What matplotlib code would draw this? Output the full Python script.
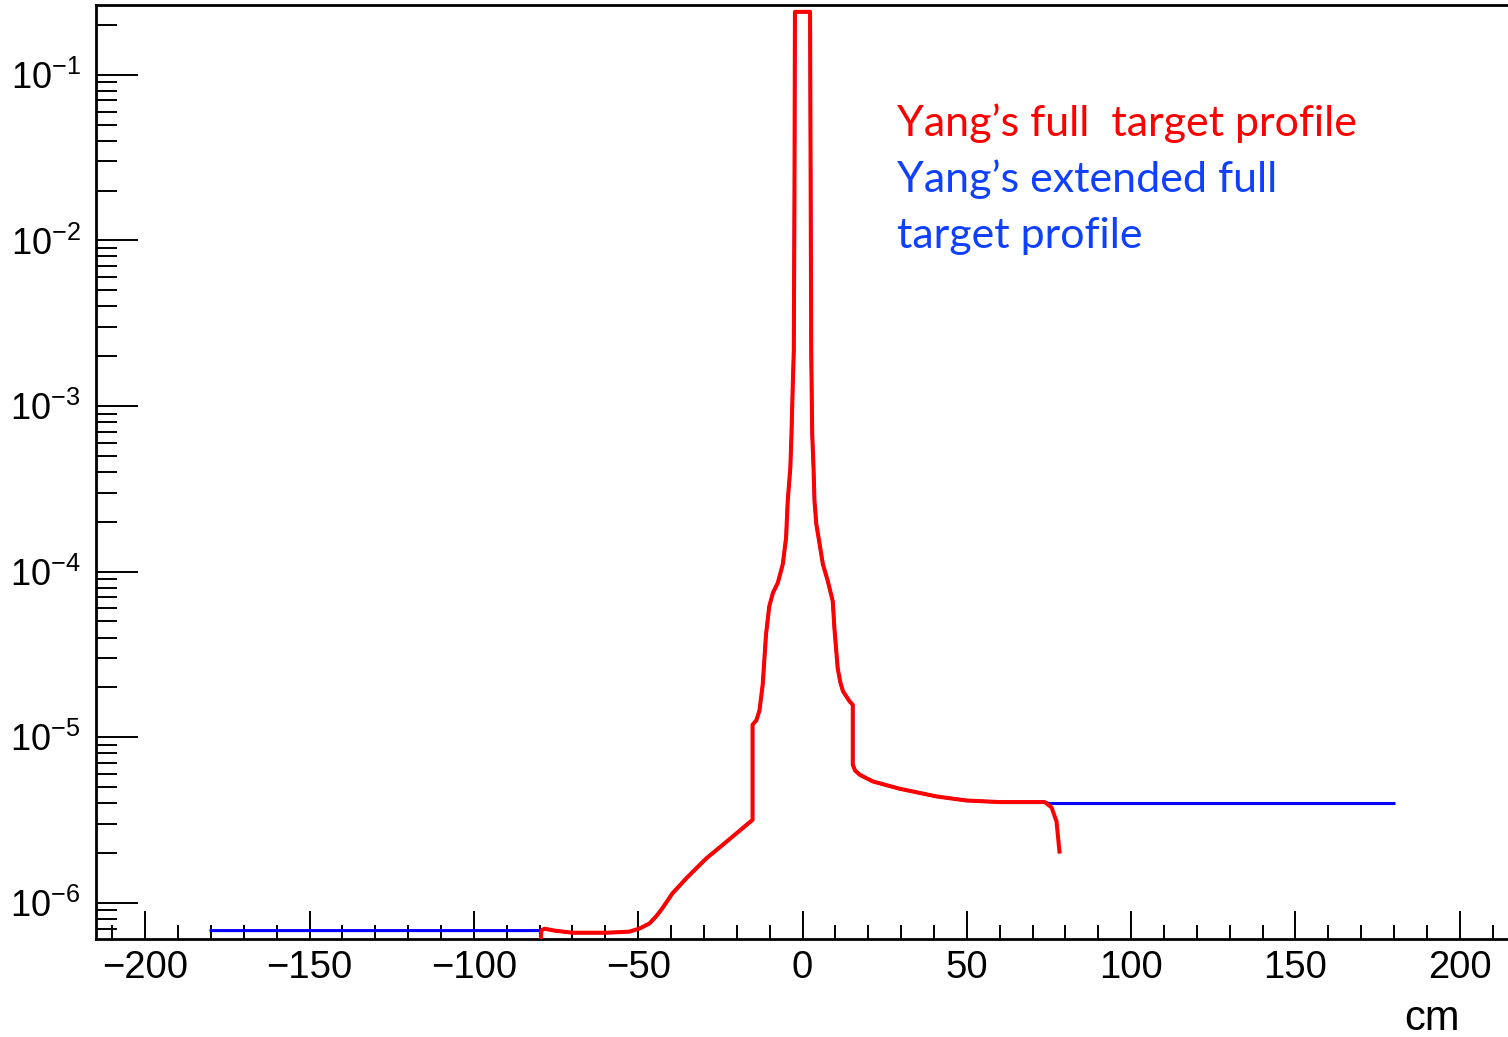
import numpy as np
import matplotlib
matplotlib.use("Agg")
import matplotlib.pyplot as plt
from matplotlib.ticker import LogLocator, MultipleLocator, NullFormatter

plt.rcParams["font.family"] = ["Liberation Sans", "DejaVu Sans"]
plt.rcParams["mathtext.fontset"] = "custom"
plt.rcParams["mathtext.rm"] = "Liberation Sans"
plt.rcParams["mathtext.it"] = "Liberation Sans:italic"
plt.rcParams["mathtext.bf"] = "Liberation Sans:bold"

# Shared profile (cm, density)
core_x = [-78.5, -75.5, -70.0, -59.7, -52.7, -49.6, -46.6, -44.5, -42.6, -39.6, -35.3,
          -32.0, -29.2, -25.0, -21.3, -15.2, -15.2, -14.0, -13.1, -12.1, -11.1, -10.1, -9.0, -7.5,
          -6.0, -5.0, -4.5, -3.7, -3.35, -2.95, -2.65, -2.45, -2.3,
          2.3, 2.5, 2.65, 2.95, 3.35, 3.65, 4.2, 5.2, 6.2, 7.7, 9.2, 9.7,
          10.7, 11.5, 12.3, 14.3, 15.3, 15.3, 16.0, 17.4, 21.4, 29.5, 40.8, 49.9, 60.0, 73.7]
core_y = [6.98e-7, 6.8e-7, 6.6e-7, 6.6e-7, 6.7e-7, 7.0e-7, 7.5e-7, 8.3e-7, 9.3e-7, 1.14e-6, 1.41e-6,
          1.64e-6, 1.86e-6, 2.18e-6, 2.51e-6, 3.17e-6, 1.19e-5, 1.27e-5, 1.45e-5, 2.09e-5, 4.19e-5,
          6.19e-5, 7.45e-5, 8.57e-5,
          1.11e-4, 1.60e-4, 2.67e-4, 4.25e-4, 6.8e-4, 1.36e-3, 2.16e-3, 1.74e-2, 0.24,
          0.24, 1.74e-2, 2.16e-3, 6.8e-4, 4.25e-4, 2.67e-4, 1.94e-4, 1.47e-4, 1.11e-4, 8.77e-5, 6.64e-5, 4.58e-5,
          2.62e-5, 2.15e-5, 1.90e-5, 1.65e-5, 1.57e-5, 6.83e-6, 6.3e-6, 5.94e-6, 5.41e-6, 4.89e-6, 4.39e-6,
          4.15e-6, 4.06e-6, 4.06e-6]

# Red ("full target") end pieces
red_start_x = [-79.8, -79.5]
red_start_y = [5.0e-7, 6.8e-7]
red_end_x = [75.8, 77.3, 78.2]
red_end_y = [3.77e-6, 3.10e-6, 2.04e-6]

# Blue ("extended") flat tails
blue_left_x = [-180.0, -80.0]
blue_left_y = [6.8e-7, 6.8e-7]
blue_right_x = [75.0, 180.0]
blue_right_y = [3.98e-6, 3.98e-6]

red_x = red_start_x + core_x + red_end_x
red_y = red_start_y + core_y + red_end_y
blue_x = blue_left_x + core_x + blue_right_x
blue_y = blue_left_y + core_y + blue_right_y

fig = plt.figure(figsize=(15.08, 10.37), dpi=100)
ax = fig.add_axes([96 / 1508, 1 - 939 / 1037, (1509 - 96) / 1508, (939 - 5) / 1037])

ax.plot(blue_x, blue_y, color="#0000ff", lw=2.2, zorder=2)
ax.plot(red_x, red_y, color="#ff0000", lw=2.9, zorder=3, solid_joinstyle="round")

ax.set_yscale("log")
ax.set_xlim(-215, 215)
ax.set_ylim(6.05e-7, 0.264)

ax.xaxis.set_major_locator(MultipleLocator(50))
ax.xaxis.set_minor_locator(MultipleLocator(10))
ax.yaxis.set_major_locator(LogLocator(base=10, numticks=20))
ax.yaxis.set_minor_locator(LogLocator(base=10, subs=np.arange(2, 10), numticks=20))
ax.yaxis.set_minor_formatter(NullFormatter())

ax.tick_params(axis="x", which="major", direction="in", length=20, width=1.4,
               labelsize=27.5, pad=8, top=False)
ax.tick_params(axis="x", which="minor", direction="in", length=10, width=1.4, top=False)
ax.tick_params(axis="y", which="major", direction="in", length=30, width=1.4,
               labelsize=26, pad=11, right=False)
ax.tick_params(axis="y", which="minor", direction="in", length=15, width=1.4, right=False)
for s in ax.spines.values():
    s.set_linewidth(2)

fig.text(1460 / 1508, 1 - 1030 / 1037, "cm", fontsize=30, ha="right", va="baseline")

fig.text(897 / 1508, 1 - 136 / 1037, "Yang\u2019s full  target profile", color="#ff0000",
         fontsize=31, family=["Lato", "DejaVu Sans"], va="baseline")
fig.text(897 / 1508, 1 - 192 / 1037, "Yang\u2019s extended full", color="#1040ff",
         fontsize=31, family=["Lato", "DejaVu Sans"], va="baseline")
fig.text(897 / 1508, 1 - 248 / 1037, "target profile", color="#1040ff",
         fontsize=31, family=["Lato", "DejaVu Sans"], va="baseline")

fig.savefig("out.png", dpi=100)
